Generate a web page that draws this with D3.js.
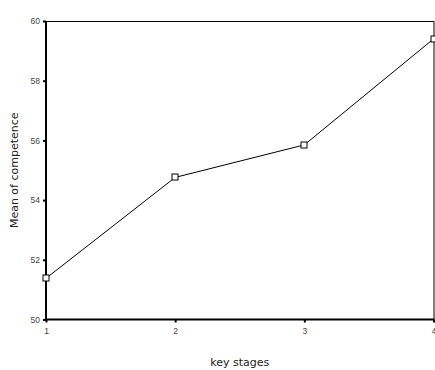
<!DOCTYPE html>
<html>
<head>
<meta charset="utf-8">
<script src="https://cdn.jsdelivr.net/npm/d3@7"></script>
<style>
  body { margin: 0; background: #fff; }
  svg { display: block; font-family: "DejaVu Sans", sans-serif; }
</style>
</head>
<body>
<script>
// data
var stages = [1, 2, 3, 4];
var meanCompetence = [51.38, 54.76, 55.85, 59.4];
var yTicks = [50, 52, 54, 56, 58, 60];

var width = 435, height = 370;
var plot = { left: 46, right: 433.5, top: 21, bottom: 319.5 };

var svg = d3.select("body").append("svg")
  .attr("width", width).attr("height", height);

var x = d3.scaleLinear().domain([1, 4]).range([plot.left, plot.right]);
var y = d3.scaleLinear().domain([50, 60]).range([plot.bottom, plot.top]);

// frame (top + right thin)
svg.append("path")
  .attr("d", "M" + plot.left + "," + (plot.top + 0.5) + "H" + (plot.right + 0.5) + "V" + plot.bottom)
  .attr("fill", "none").attr("stroke", "#000").attr("stroke-width", 1);

// axes
var yAxis = svg.append("g").attr("transform", "translate(" + plot.left + ",0)")
  .call(d3.axisLeft(y).tickValues(yTicks).tickSize(3).tickPadding(3).tickFormat(d3.format("d")));
var xAxis = svg.append("g").attr("transform", "translate(0," + plot.bottom + ")")
  .call(d3.axisBottom(x).tickValues(stages).tickSize(3).tickPadding(5).tickFormat(d3.format("d")));

yAxis.select(".domain").attr("stroke-width", 2)
  .attr("d", "M0," + plot.top + "V" + (plot.bottom + 1));
xAxis.select(".domain").attr("stroke-width", 2)
  .attr("d", "M" + (plot.left - 1) + ",0H" + (plot.right + 1));

[yAxis, xAxis].forEach(function(a){
  a.selectAll(".tick line").attr("stroke-width", 2);
  a.selectAll(".tick text").attr("fill", "#444").style("font-size", "8.5px");
});

// line
var line = d3.line()
  .x(function(d, i){ return x(stages[i]); })
  .y(function(d){ return y(d); });

svg.append("path")
  .datum(meanCompetence)
  .attr("d", line)
  .attr("fill", "none").attr("stroke", "#000").attr("stroke-width", 1);

// markers
svg.selectAll("rect.pt").data(meanCompetence).enter().append("rect")
  .attr("class", "pt")
  .attr("x", function(d, i){ return Math.round(x(stages[i])) - 3; })
  .attr("y", function(d){ return Math.round(y(d)) - 3; })
  .attr("width", 6).attr("height", 6)
  .attr("fill", "#fff").attr("stroke", "#000").attr("stroke-width", 1);

// titles
svg.append("text")
  .attr("x", (plot.left + plot.right) / 2).attr("y", 366)
  .attr("text-anchor", "middle").attr("fill", "#222")
  .style("font-size", "11px")
  .text("key stages");

svg.append("text")
  .attr("transform", "translate(18," + (plot.top + plot.bottom) / 2 + ") rotate(-90)")
  .attr("text-anchor", "middle").attr("fill", "#222")
  .style("font-size", "11px")
  .text("Mean of competence");
</script>
</body>
</html>
